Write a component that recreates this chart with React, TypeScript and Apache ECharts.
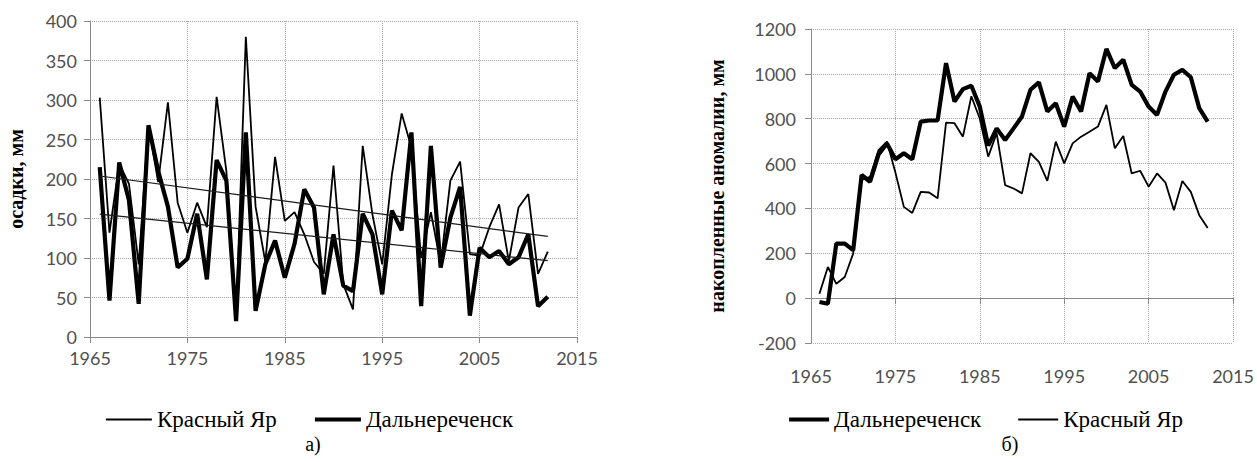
import React, { useEffect, useRef } from "react";
import * as echarts from "echarts";

const years = [
  1966, 1967, 1968, 1969, 1970, 1971, 1972, 1973, 1974, 1975, 1976, 1977,
  1978, 1979, 1980, 1981, 1982, 1983, 1984, 1985, 1986, 1987, 1988, 1989,
  1990, 1991, 1992, 1993, 1994, 1995, 1996, 1997, 1998, 1999, 2000, 2001,
  2002, 2003, 2004, 2005, 2006, 2007, 2008, 2009, 2010, 2011, 2012,
];

// а) осадки, мм
const precipKY = [
  303, 132, 219, 194, 92, 268, 196, 297, 170, 132, 170, 139,
  304, 210, 25, 380, 165, 95, 228, 147, 158, 130, 95, 80,
  217, 67, 35, 242, 155, 92, 206, 283, 240, 100, 158, 92,
  198, 222, 105, 103, 139, 168, 96, 164, 181, 80, 108,
];
const precipDR = [
  215, 46, 221, 173, 42, 268, 210, 165, 88, 99, 156, 73,
  224, 198, 20, 259, 33, 92, 122, 75, 118, 187, 164, 54,
  130, 65, 58, 156, 130, 54, 160, 135, 259, 39, 242, 88,
  151, 190, 27, 113, 101, 109, 92, 101, 130, 39, 51,
];

// б) накопленные аномалии, мм
const cumDR = [
  -17, -25, 243, 243, 214, 549, 519, 640, 690, 619, 646, 619,
  787, 792, 792, 1048, 877, 932, 947, 854, 680, 757, 705, 757,
  810, 929, 962, 832, 869, 765, 899, 832, 1003, 966, 1111, 1026,
  1063, 951, 921, 854, 817, 921, 996, 1018, 985, 847, 787,
];
const cumKY = [
  20, 139, 64, 94, 199, 527, 541, 660, 698, 560, 407, 380,
  474, 471, 445, 783, 780, 720, 900, 800, 631, 735, 504, 489,
  467, 646, 608, 523, 698, 601, 690, 720, 742, 765, 862, 668,
  723, 556, 568, 497, 556, 515, 392, 522, 474, 370, 313,
];

const leftYTicks = { min: 0, max: 400, interval: 50 };
const rightYTicks = { min: -200, max: 1200, interval: 200 };
const xTicks = { min: 1965, max: 2015, interval: 10 };

const NAME_KY = "Красный Яр";
const NAME_DR = "Дальнереченск";

function pairs(xs: number[], ys: number[]) {
  return xs.map((x, i) => [x, ys[i]]);
}

function trend(xs: number[], ys: number[]) {
  const n = xs.length;
  const mx = xs.reduce((a, b) => a + b, 0) / n;
  const my = ys.reduce((a, b) => a + b, 0) / n;
  let sxy = 0;
  let sxx = 0;
  for (let i = 0; i < n; i++) {
    sxy += (xs[i] - mx) * (ys[i] - my);
    sxx += (xs[i] - mx) * (xs[i] - mx);
  }
  const b = sxy / sxx;
  const a = my - b * mx;
  const x0 = xs[0];
  const x1 = xs[n - 1];
  return [
    [x0, a + b * x0],
    [x1, a + b * x1],
  ];
}

const THIN = 1.8;
const THICK = 4.2;

const plain = (v: number) => String(v);
const tickFont = {
  fontFamily: "Lato, 'Open Sans', sans-serif",
  fontSize: 18,
  color: "#505050",
  formatter: plain,
};
const gridLine = { show: true, lineStyle: { color: "#a8a8a8", type: "dotted", width: 1 } };
const axisLineStyle = { show: true, lineStyle: { color: "#8a8a8a", width: 1 } };
const axisTickStyle = { show: true, length: 6, lineStyle: { color: "#8a8a8a" } };
const serif = "'Liberation Serif', 'DejaVu Serif', serif";
const legendText = { fontFamily: serif, fontSize: 23, color: "#000" };

export default function App() {
  const ref = useRef<HTMLDivElement>(null);

  useEffect(() => {
    if (!ref.current) return;
    const chart = echarts.init(ref.current, undefined, { renderer: "svg" });
    const option = {
      animation: false,
      backgroundColor: "#ffffff",
      grid: [
        { left: 90, top: 21, width: 487, height: 316 },
        { left: 811, top: 29, width: 422, height: 314 },
      ],
      legend: [
        {
          data: [
            { name: NAME_KY, lineStyle: { width: THIN } },
            { name: NAME_DR, lineStyle: { width: THICK } },
          ],
          left: 100,
          top: 403,
          itemWidth: 46,
          itemHeight: 10,
          itemGap: 36,
          itemStyle: { opacity: 0 },
          lineStyle: { width: "inherit" },
          textStyle: legendText,
        },
        {
          data: [
            { name: NAME_DR, lineStyle: { width: THICK } },
            { name: NAME_KY, lineStyle: { width: THIN } },
          ],
          left: 782,
          top: 403,
          itemWidth: 40,
          itemHeight: 10,
          itemGap: 36,
          itemStyle: { opacity: 0 },
          lineStyle: { width: "inherit" },
          textStyle: legendText,
        },
      ],
      xAxis: [
        {
          gridIndex: 0,
          type: "value",
          ...xTicks,
          axisLine: { ...axisLineStyle, onZero: false },
          axisTick: axisTickStyle,
          splitLine: gridLine,
          axisLabel: { ...tickFont, margin: 12 },
        },
        {
          gridIndex: 1,
          type: "value",
          position: "bottom",
          ...xTicks,
          axisLine: { show: false, onZero: false },
          axisTick: { show: false },
          splitLine: gridLine,
          axisLabel: { ...tickFont, margin: 24 },
        },
        {
          gridIndex: 1,
          type: "value",
          position: "bottom",
          ...xTicks,
          axisLine: { ...axisLineStyle, onZero: true },
          axisTick: axisTickStyle,
          splitLine: { show: false },
          axisLabel: { show: false },
        },
      ],
      yAxis: [
        {
          gridIndex: 0,
          type: "value",
          ...leftYTicks,
          name: "осадки, мм",
          nameLocation: "middle",
          nameGap: 64,
          nameTextStyle: { fontFamily: serif, fontSize: 20, fontWeight: "bold", color: "#000" },
          axisLine: axisLineStyle,
          axisTick: axisTickStyle,
          splitLine: gridLine,
          axisLabel: { ...tickFont, margin: 13 },
        },
        {
          gridIndex: 1,
          type: "value",
          ...rightYTicks,
          name: "накопленные аномалии, мм",
          nameLocation: "middle",
          nameGap: 84,
          nameTextStyle: { fontFamily: serif, fontSize: 20, fontWeight: "bold", color: "#000" },
          axisLine: { ...axisLineStyle, onZero: false },
          axisTick: axisTickStyle,
          splitLine: gridLine,
          axisLabel: { ...tickFont, margin: 15 },
        },
      ],
      series: [
        {
          name: NAME_KY,
          type: "line",
          xAxisIndex: 0,
          yAxisIndex: 0,
          symbol: "none",
          data: pairs(years, precipKY),
          itemStyle: { color: "#000" },
          lineStyle: { color: "#000", width: THIN },
          z: 3,
        },
        {
          name: NAME_DR,
          type: "line",
          xAxisIndex: 0,
          yAxisIndex: 0,
          symbol: "none",
          data: pairs(years, precipDR),
          itemStyle: { color: "#000" },
          lineStyle: { color: "#000", width: THICK },
          z: 2,
        },
        {
          name: "trendKY",
          type: "line",
          xAxisIndex: 0,
          yAxisIndex: 0,
          symbol: "none",
          data: trend(years, precipKY),
          lineStyle: { color: "#1a1a1a", width: 1.2 },
          z: 4,
        },
        {
          name: "trendDR",
          type: "line",
          xAxisIndex: 0,
          yAxisIndex: 0,
          symbol: "none",
          data: trend(years, precipDR),
          lineStyle: { color: "#1a1a1a", width: 1.2 },
          z: 4,
        },
        {
          name: NAME_DR,
          type: "line",
          xAxisIndex: 1,
          yAxisIndex: 1,
          symbol: "none",
          data: pairs(years, cumDR),
          itemStyle: { color: "#000" },
          lineStyle: { color: "#000", width: THICK },
          z: 2,
        },
        {
          name: NAME_KY,
          type: "line",
          xAxisIndex: 1,
          yAxisIndex: 1,
          symbol: "none",
          data: pairs(years, cumKY),
          itemStyle: { color: "#000" },
          lineStyle: { color: "#000", width: THIN },
          z: 3,
        },
      ],
      graphic: [
        {
          type: "text",
          x: 313,
          y: 434,
          style: { text: "а)", font: `20px ${serif}`, fill: "#000", align: "center" },
        },
        {
          type: "text",
          x: 1010,
          y: 434,
          style: { text: "б)", font: `20px ${serif}`, fill: "#000", align: "center" },
        },
      ],
    };
    chart.setOption(option as any);
    return () => chart.dispose();
  }, []);

  return (
    <div
      ref={ref}
      style={{ position: "absolute", left: 0, top: 0, width: 1257, height: 462, background: "#fff" }}
    />
  );
}
